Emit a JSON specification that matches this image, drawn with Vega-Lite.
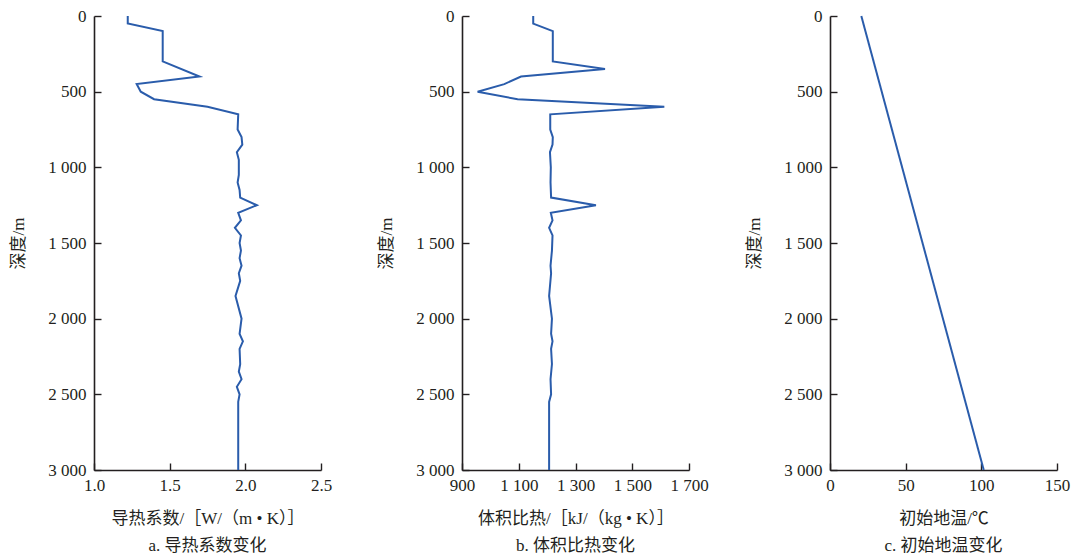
{
  "$schema": "https://vega.github.io/schema/vega-lite/v6.json",
  "padding": {"left": 9, "top": 7, "right": 5, "bottom": 5},
  "background": "white",
  "datasets": {
    "k": [
      {"depth": 0, "v": 1.223}, {"depth": 50, "v": 1.223}, {"depth": 100, "v": 1.454},
      {"depth": 300, "v": 1.454}, {"depth": 400, "v": 1.697}, {"depth": 450, "v": 1.282},
      {"depth": 500, "v": 1.309}, {"depth": 550, "v": 1.397}, {"depth": 600, "v": 1.75},
      {"depth": 650, "v": 1.953}, {"depth": 750, "v": 1.949}, {"depth": 800, "v": 1.975},
      {"depth": 850, "v": 1.98}, {"depth": 900, "v": 1.944}, {"depth": 950, "v": 1.957},
      {"depth": 1050, "v": 1.957}, {"depth": 1100, "v": 1.949}, {"depth": 1150, "v": 1.962},
      {"depth": 1200, "v": 1.966}, {"depth": 1250, "v": 2.076}, {"depth": 1300, "v": 1.953},
      {"depth": 1350, "v": 1.971}, {"depth": 1400, "v": 1.931}, {"depth": 1450, "v": 1.971},
      {"depth": 1500, "v": 1.962}, {"depth": 1550, "v": 1.971}, {"depth": 1600, "v": 1.962},
      {"depth": 1650, "v": 1.975}, {"depth": 1700, "v": 1.957}, {"depth": 1750, "v": 1.966},
      {"depth": 1850, "v": 1.935}, {"depth": 2000, "v": 1.975}, {"depth": 2100, "v": 1.962},
      {"depth": 2150, "v": 1.984}, {"depth": 2200, "v": 1.962}, {"depth": 2300, "v": 1.966},
      {"depth": 2350, "v": 1.957}, {"depth": 2400, "v": 1.975}, {"depth": 2450, "v": 1.944},
      {"depth": 2500, "v": 1.962}, {"depth": 2550, "v": 1.953}, {"depth": 3000, "v": 1.953}
    ],
    "c": [
      {"depth": 0, "v": 1151}, {"depth": 50, "v": 1151}, {"depth": 100, "v": 1220},
      {"depth": 300, "v": 1220}, {"depth": 350, "v": 1404}, {"depth": 400, "v": 1108},
      {"depth": 450, "v": 1049}, {"depth": 500, "v": 955}, {"depth": 550, "v": 1096},
      {"depth": 600, "v": 1613}, {"depth": 650, "v": 1211}, {"depth": 750, "v": 1211},
      {"depth": 800, "v": 1220}, {"depth": 850, "v": 1219}, {"depth": 900, "v": 1210},
      {"depth": 1000, "v": 1213}, {"depth": 1100, "v": 1212}, {"depth": 1200, "v": 1214},
      {"depth": 1250, "v": 1372}, {"depth": 1300, "v": 1213}, {"depth": 1350, "v": 1219},
      {"depth": 1400, "v": 1207}, {"depth": 1450, "v": 1219}, {"depth": 1550, "v": 1217},
      {"depth": 1650, "v": 1212}, {"depth": 1700, "v": 1214}, {"depth": 1850, "v": 1207},
      {"depth": 2000, "v": 1217}, {"depth": 2100, "v": 1214}, {"depth": 2150, "v": 1219},
      {"depth": 2200, "v": 1214}, {"depth": 2300, "v": 1217}, {"depth": 2400, "v": 1212},
      {"depth": 2500, "v": 1214}, {"depth": 2550, "v": 1207}, {"depth": 3000, "v": 1207}
    ],
    "t": [
      {"depth": 0, "v": 20.7}, {"depth": 3000, "v": 101.6}
    ]
  },
  "config": {
    "font": "Liberation Serif, Noto Sans CJK SC",
    "view": {"stroke": null},
    "axis": {
      "grid": false,
      "domainColor": "#231f20",
      "domainWidth": 1.6,
      "tickColor": "#231f20",
      "tickWidth": 1.4,
      "tickSize": -7,
      "labelFont": "Liberation Serif",
      "labelFontSize": 17,
      "labelColor": "#231f20",
      "labelOverlap": false,
      "labelBound": false,
      "labelFlush": false,
      "titleFont": "Liberation Serif, Noto Sans CJK SC",
      "titleFontSize": 17,
      "titleFontWeight": "normal",
      "titleColor": "#231f20"
    },
    "axisY": {"labelPadding": 15, "titlePadding": 20},
    "axisX": {"labelPadding": 14, "titlePadding": 17},
    "title": {"fontSize": 17, "fontWeight": "normal", "color": "#231f20", "font": "Liberation Serif, Noto Sans CJK SC"},
    "line": {"color": "#2a5cab", "strokeWidth": 2}
  },
  "hconcat": [
    {
      "width": 227, "height": 454,
      "data": {"name": "k"},
      "title": {"text": "a. 导热系数变化", "orient": "bottom", "anchor": "middle", "offset": 12},
      "mark": {"type": "line"},
      "encoding": {
        "x": {"field": "v", "type": "quantitative", "scale": {"domain": [1.0, 2.5], "nice": false, "zero": false},
              "axis": {"title": "导热系数/［W/（m • K）］", "values": [1.0, 1.5, 2.0, 2.5], "format": ".1f"}},
        "y": {"field": "depth", "type": "quantitative", "scale": {"domain": [0, 3000], "reverse": true, "nice": false},
              "axis": {"title": "深度/m", "values": [0, 500, 1000, 1500, 2000, 2500, 3000], "labelExpr": "replace(format(datum.value, ','), ',', ' ')"}},
        "order": {"field": "depth", "type": "quantitative"}
      }
    },
    {
      "width": 227, "height": 454,
      "data": {"name": "c"},
      "title": {"text": "b. 体积比热变化", "orient": "bottom", "anchor": "middle", "offset": 12},
      "mark": {"type": "line"},
      "encoding": {
        "x": {"field": "v", "type": "quantitative", "scale": {"domain": [900, 1700], "nice": false, "zero": false},
              "axis": {"title": "体积比热/［kJ/（kg • K）］", "values": [900, 1100, 1300, 1500, 1700], "labelExpr": "replace(format(datum.value, ','), ',', ' ')"}},
        "y": {"field": "depth", "type": "quantitative", "scale": {"domain": [0, 3000], "reverse": true, "nice": false},
              "axis": {"title": "深度/m", "values": [0, 500, 1000, 1500, 2000, 2500, 3000], "labelExpr": "replace(format(datum.value, ','), ',', ' ')"}},
        "order": {"field": "depth", "type": "quantitative"}
      }
    },
    {
      "width": 227, "height": 454,
      "data": {"name": "t"},
      "title": {"text": "c. 初始地温变化", "orient": "bottom", "anchor": "middle", "offset": 12},
      "mark": {"type": "line"},
      "encoding": {
        "x": {"field": "v", "type": "quantitative", "scale": {"domain": [0, 150], "nice": false},
              "axis": {"title": "初始地温/℃", "values": [0, 50, 100, 150]}},
        "y": {"field": "depth", "type": "quantitative", "scale": {"domain": [0, 3000], "reverse": true, "nice": false},
              "axis": {"title": "深度/m", "values": [0, 500, 1000, 1500, 2000, 2500, 3000], "labelExpr": "replace(format(datum.value, ','), ',', ' ')"}},
        "order": {"field": "depth", "type": "quantitative"}
      }
    }
  ],
  "spacing": 141,
  "bounds": "flush"
}
